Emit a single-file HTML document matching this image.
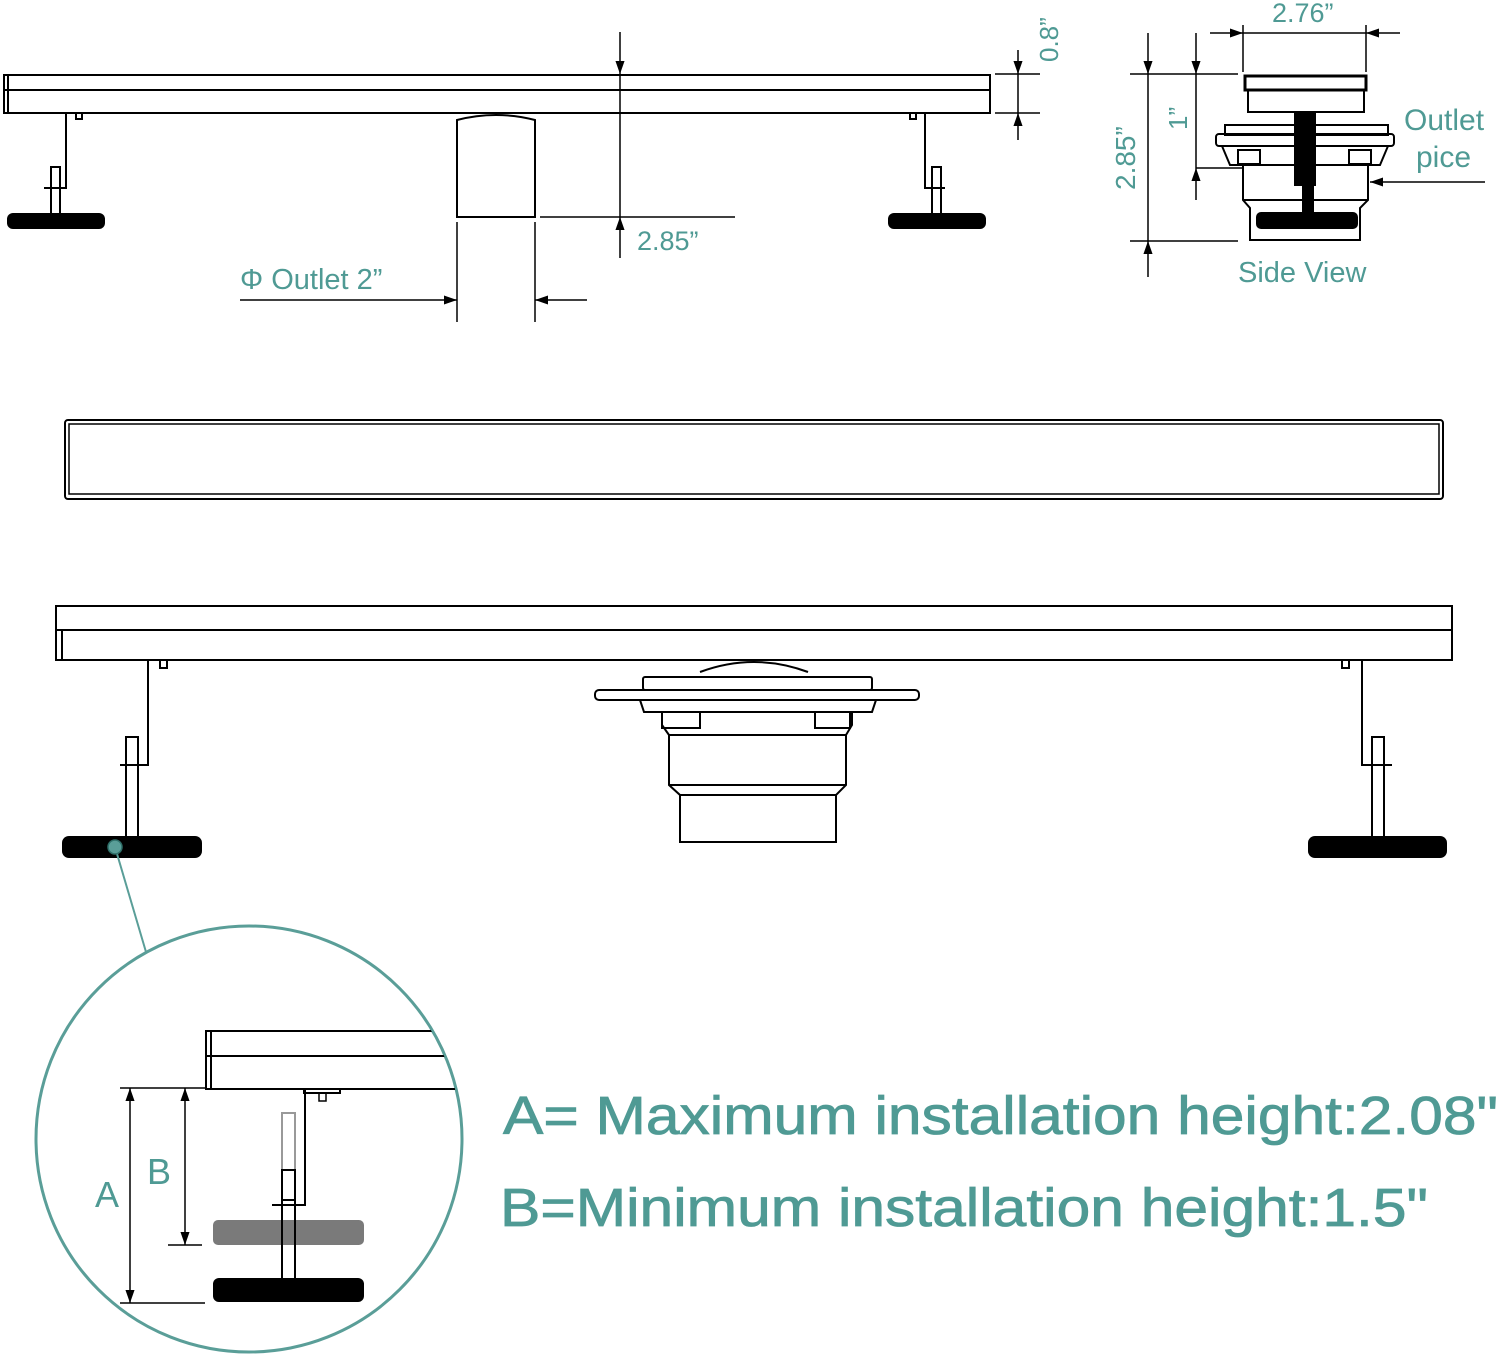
<!DOCTYPE html>
<html><head><meta charset="utf-8"><style>html,body{margin:0;padding:0;background:#fff}svg{display:block}</style></head><body>
<svg width="1500" height="1356" viewBox="0 0 1500 1356" xmlns="http://www.w3.org/2000/svg" font-family="Liberation Sans, sans-serif">
<defs>
<marker id="ah" viewBox="0 0 10 10" refX="10" refY="5" markerWidth="13" markerHeight="13" markerUnits="userSpaceOnUse" orient="auto"><path d="M0,1.5 L10,5 L0,8.5 z" fill="#000"/></marker>
</defs>
<g stroke="#000" stroke-width="2" fill="none">
<rect x="4" y="75" width="986" height="38" fill="#fff"/>
<line x1="4" y1="90" x2="990" y2="90"/>
<line x1="8" y1="75" x2="8" y2="113"/>
<polyline points="66,113 66,188 44,188"/>
<rect x="51" y="167" width="9" height="21"/>
<line x1="51" y1="188" x2="51" y2="215"/><line x1="60" y1="188" x2="60" y2="215"/>
<rect x="76" y="113" width="6" height="6"/>
<polyline points="925,113 925,188 945,188"/>
<rect x="932" y="167" width="9" height="21"/>
<line x1="932" y1="188" x2="932" y2="215"/><line x1="941" y1="188" x2="941" y2="215"/>
<rect x="910" y="113" width="6" height="6"/>
<path d="M457,217 L457,120 Q496,110 535,120 L535,217 Z"/>
<line x1="457" y1="222" x2="457" y2="322" stroke-width="1.5"/>
<line x1="535" y1="222" x2="535" y2="322" stroke-width="1.5"/>
<line x1="240" y1="300" x2="457" y2="300" stroke-width="1.5" marker-end="url(#ah)"/>
<line x1="587" y1="300" x2="535" y2="300" stroke-width="1.5" marker-end="url(#ah)"/>
<line x1="620" y1="32" x2="620" y2="74" stroke-width="1.5" marker-end="url(#ah)"/>
<line x1="620" y1="74" x2="620" y2="217" stroke-width="1.5"/>
<line x1="620" y1="258" x2="620" y2="217" stroke-width="1.5" marker-end="url(#ah)"/>
<line x1="540" y1="217" x2="735" y2="217" stroke-width="1.5"/>
<line x1="995" y1="74" x2="1040" y2="74" stroke-width="1.5"/>
<line x1="995" y1="113" x2="1040" y2="113" stroke-width="1.5"/>
<line x1="1018" y1="50" x2="1018" y2="74" stroke-width="1.5" marker-end="url(#ah)"/>
<line x1="1018" y1="140" x2="1018" y2="113" stroke-width="1.5" marker-end="url(#ah)"/>
<line x1="1018" y1="74" x2="1018" y2="113" stroke-width="1.5"/>

<line x1="1210" y1="33" x2="1243" y2="33" stroke-width="1.5" marker-end="url(#ah)"/>
<line x1="1400" y1="33" x2="1366" y2="33" stroke-width="1.5" marker-end="url(#ah)"/>
<line x1="1243" y1="33" x2="1366" y2="33" stroke-width="1.5"/>
<line x1="1243" y1="25" x2="1243" y2="72" stroke-width="1.5"/>
<line x1="1366" y1="25" x2="1366" y2="72" stroke-width="1.5"/>
<rect x="1245" y="76" width="121" height="14" stroke-width="3"/>
<rect x="1248" y="90" width="116" height="22"/>
<rect x="1225" y="125" width="163" height="10"/>
<rect x="1216" y="134" width="178" height="12" rx="3"/>
<path d="M1222,146 L1230,165 L1380,165 L1388,146"/>
<rect x="1238" y="150" width="22" height="14"/><rect x="1349" y="150" width="22" height="14"/>
<path d="M1243,165 L1243,200 L1250,208 L1250,240 L1360,240 L1360,208 L1368,200 L1368,165"/>
<line x1="1243" y1="200" x2="1368" y2="200"/>
<rect x="1257" y="213" width="100" height="15" rx="4" fill="#000"/>
<rect x="1295" y="112" width="20" height="73" fill="#000"/>
<rect x="1303" y="185" width="10" height="28" fill="#000"/>
<line x1="1148" y1="33" x2="1148" y2="74" stroke-width="1.5" marker-end="url(#ah)"/>
<line x1="1148" y1="277" x2="1148" y2="241" stroke-width="1.5" marker-end="url(#ah)"/>
<line x1="1148" y1="74" x2="1148" y2="241" stroke-width="1.5"/>
<line x1="1130" y1="74" x2="1238" y2="74" stroke-width="1.5"/>
<line x1="1130" y1="241" x2="1238" y2="241" stroke-width="1.5"/>
<line x1="1196" y1="33" x2="1196" y2="74" stroke-width="1.5" marker-end="url(#ah)"/>
<line x1="1196" y1="200" x2="1196" y2="168" stroke-width="1.5" marker-end="url(#ah)"/>
<line x1="1196" y1="74" x2="1196" y2="168" stroke-width="1.5"/>
<line x1="1196" y1="168" x2="1243" y2="168" stroke-width="1.5"/>
<line x1="1485" y1="182" x2="1370" y2="182" stroke-width="1.5" marker-end="url(#ah)"/>

<rect x="65" y="420" width="1378" height="79" rx="3"/>
<rect x="69" y="424" width="1370" height="70" stroke-width="1.5"/>

<rect x="56" y="606" width="1396" height="54" fill="#fff"/>
<line x1="56" y1="630" x2="1452" y2="630"/>
<line x1="62" y1="630" x2="62" y2="660"/>
<polyline points="148,660 148,765 120,765"/>
<rect x="126" y="737" width="12" height="28"/>
<line x1="126" y1="765" x2="126" y2="838"/><line x1="138" y1="765" x2="138" y2="838"/>
<rect x="160" y="660" width="7" height="8"/>
<polyline points="1362,660 1362,765 1392,765"/>
<rect x="1372" y="737" width="12" height="28"/>
<line x1="1372" y1="765" x2="1372" y2="838"/><line x1="1384" y1="765" x2="1384" y2="838"/>
<rect x="1342" y="660" width="7" height="8"/>
<path d="M700,672 Q754,652 808,672"/>
<rect x="643" y="677" width="229" height="13" rx="2"/>
<rect x="595" y="690" width="324" height="10" rx="4"/>
<path d="M640,700 L644,712 L872,712 L876,700"/>
<rect x="662" y="712" width="38" height="16"/><rect x="815" y="712" width="35" height="16"/>
<path d="M662,712 L662,725 L669,735 L669,785 L680,795 L680,842 L836,842 L836,795 L846,785 L846,735 L852,725 L852,712"/>
<line x1="669" y1="735" x2="846" y2="735"/>
<line x1="669" y1="785" x2="846" y2="785"/>
<line x1="680" y1="795" x2="836" y2="795"/>
</g>
<rect x="7" y="213" width="98" height="16" rx="6" fill="#000"/>
<rect x="888" y="213" width="98" height="16" rx="6" fill="#000"/>
<rect x="62" y="836" width="140" height="22" rx="7" fill="#000"/>
<rect x="1308" y="836" width="139" height="22" rx="7" fill="#000"/>

<line x1="115" y1="847" x2="146" y2="952" stroke="#5a9e98" stroke-width="2"/>
<circle cx="115" cy="847" r="7" fill="#5a9e98" stroke="#2f6f69" stroke-width="1.5"/>
<circle cx="249" cy="1139" r="213" fill="#fff" stroke="#5a9e98" stroke-width="3"/>
<clipPath id="cc"><circle cx="249" cy="1139" r="212"/></clipPath>
<g clip-path="url(#cc)" stroke="#000" stroke-width="2" fill="none">
<rect x="206" y="1031" width="280" height="58"/>
<line x1="206" y1="1056" x2="486" y2="1056"/>
<line x1="211" y1="1031" x2="211" y2="1089"/>
<rect x="304" y="1089" width="36" height="4"/>
<rect x="319" y="1093" width="7" height="8" stroke-width="1.5"/>
<polyline points="305,1090 305,1205 272,1205"/>
<rect x="282" y="1113" width="13" height="57" stroke="#999"/>
<rect x="282" y="1170" width="13" height="30"/>
<rect x="213" y="1220" width="151" height="25" rx="5" fill="#7a7a7a" stroke="none"/>
<line x1="282" y1="1200" x2="282" y2="1278"/><line x1="295" y1="1200" x2="295" y2="1278"/>
<rect x="213" y="1278" width="151" height="24" rx="6" fill="#000" stroke="none"/>
<line x1="120" y1="1088" x2="205" y2="1088" stroke-width="1.5"/>
<line x1="120" y1="1303" x2="205" y2="1303" stroke-width="1.5"/>
<line x1="168" y1="1245" x2="202" y2="1245" stroke-width="1.5"/>
<line x1="130" y1="1196" x2="130" y2="1088" stroke-width="1.5" marker-end="url(#ah)"/>
<line x1="130" y1="1196" x2="130" y2="1303" stroke-width="1.5" marker-end="url(#ah)"/>
<line x1="185" y1="1166" x2="185" y2="1088" stroke-width="1.5" marker-end="url(#ah)"/>
<line x1="185" y1="1166" x2="185" y2="1245" stroke-width="1.5" marker-end="url(#ah)"/>
</g>

<g fill="#4f9a94">
<text x="240" y="289" font-size="29">Φ Outlet 2”</text>
<text x="637" y="250" font-size="27">2.85”</text>
<text x="1058" y="62" font-size="26" transform="rotate(-90 1058 62)">0.8”</text>
<text x="1272" y="22" font-size="27">2.76”</text>
<text x="1135" y="190" font-size="28" transform="rotate(-90 1135 190)">2.85”</text>
<text x="1187" y="130" font-size="26" transform="rotate(-90 1187 130)">1”</text>
<text x="1404" y="130" font-size="30">Outlet</text>
<text x="1416" y="167" font-size="30">pice</text>
<text x="1238" y="282" font-size="29">Side View</text>
<text x="95" y="1207" font-size="36">A</text>
<text x="147" y="1184" font-size="36">B</text>
<text x="503" y="1134" font-size="54" stroke="#4f9a94" stroke-width="0.8" textLength="995" lengthAdjust="spacingAndGlyphs">A= Maximum installation height:2.08"</text>
<text x="500" y="1226" font-size="54" stroke="#4f9a94" stroke-width="0.8" textLength="928" lengthAdjust="spacingAndGlyphs">B=Minimum installation height:1.5"</text>
</g>
</svg>
</body></html>
